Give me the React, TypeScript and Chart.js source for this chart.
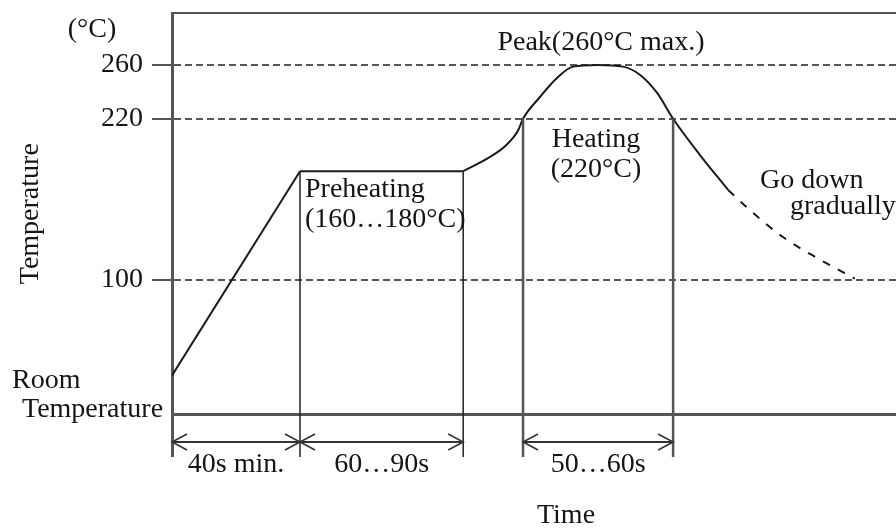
import React, { useEffect, useRef } from "react";
import { Chart, registerables } from "chart.js";

Chart.register(...registerables);

// ---- data (time in s, temperature in °C; schematic profile) ----
const rampTime = [0, 40];
const rampTemp = [29, 181];
const soakTime = [40, 91];
const soakTemp = [181, 181];
const reflowTime = [91, 99.4, 104.5, 108.1, 109.7, 115, 120.3, 125.3, 133, 140.9, 146.3, 151.6, 156.6, 165, 173.8];
const reflowTemp = [181, 191.6, 200.5, 211, 220, 236.2, 250.3, 258.8, 260, 258.8, 252.6, 239.2, 220, 193, 167];
const coolTime = [173.8, 180.6, 190.9, 201.6, 213.4];
const coolTemp = [167, 152, 132, 116.4, 101];

const yTickValues = [100, 220, 260];
const yTickLabels = ["100", "220", "260"];

// phase boundaries: time and temperature where each vertical marker starts
const boundaryTime = [40, 91, 109.7, 156.6];
const boundaryTemp = [181, 181, 220, 220];

// dimension spans (start, end) and their labels
const spanStart = [0, 40, 109.7];
const spanEnd = [40, 91, 156.6];
const spanLabels = ["40s min.", "60…90s", "50…60s"];

const FONT = '"Liberation Serif", "Times New Roman", serif';
const TEXT = "#151515";

const pts = (xs: number[], ys: number[]) => xs.map((x, i) => ({ x, y: ys[i] }));

const annotations = {
  id: "annotations",
  afterDraw(chart: any) {
    const { ctx, chartArea, scales } = chart;
    const x = scales.x;
    const y = scales.y;
    const bottom = chartArea.bottom;
    const dimY = bottom + 27.6;
    const extY = bottom + 42.6;
    ctx.save();
    const line = (x1: number, y1: number, x2: number, y2: number, color: string, w: number) => {
      ctx.beginPath();
      ctx.strokeStyle = color;
      ctx.lineWidth = w;
      ctx.setLineDash([]);
      ctx.moveTo(x1, y1);
      ctx.lineTo(x2, y2);
      ctx.stroke();
    };
    // top frame
    line(chartArea.left, chartArea.top, chartArea.right, chartArea.top, "#555", 2);
    // extend y axis below baseline
    const x0 = x.getPixelForValue(0);
    line(x0 + 0.5, bottom, x0 + 0.5, extY, "#555", 3);
    // phase boundaries
    boundaryTime.forEach((t, i) => {
      const px = x.getPixelForValue(t);
      const py = y.getPixelForValue(boundaryTemp[i]);
      const thick = i >= 2;
      line(px, py, px, extY, thick ? "#555" : "#222", thick ? 2.5 : 1.5);
    });
    // dimension arrows
    const arrow = (xa: number, xb: number) => {
      line(xa, dimY, xb, dimY, "#333", 2);
      const hl = 15, hh = 8;
      ctx.beginPath();
      ctx.strokeStyle = "#333";
      ctx.lineWidth = 1.6;
      ctx.moveTo(xa + hl, dimY - hh);
      ctx.lineTo(xa, dimY);
      ctx.lineTo(xa + hl, dimY + hh);
      ctx.moveTo(xb - hl, dimY - hh);
      ctx.lineTo(xb, dimY);
      ctx.lineTo(xb - hl, dimY + hh);
      ctx.stroke();
    };
    ctx.font = `28px ${FONT}`;
    ctx.fillStyle = TEXT;
    ctx.textBaseline = "alphabetic";
    spanStart.forEach((s, i) => {
      const xa = x.getPixelForValue(s);
      const xb = x.getPixelForValue(spanEnd[i]);
      arrow(xa, xb);
      ctx.textAlign = "center";
      ctx.fillText(spanLabels[i], (xa + xb) / 2, bottom + 57.6);
    });
    // text annotations
    const text = (s: string, px: number, py: number, align: CanvasTextAlign) => {
      ctx.textAlign = align;
      ctx.fillText(s, px, py);
    };
    text("(°C)", 92, 37, "center");
    text("Peak(260°C max.)", 601, 50, "center");
    text("Heating", 596, 147, "center");
    text("(220°C)", 596, 177, "center");
    text("Preheating", 305, 197, "left");
    text("(160…180°C)", 305, 227, "left");
    text("Go down", 760, 188, "left");
    text("gradually", 790, 214, "left");
    text("Room", 12, 388, "left");
    text("Temperature", 22, 417, "left");
    ctx.restore();
  },
};

export default function App() {
  const ref = useRef<HTMLCanvasElement>(null);
  useEffect(() => {
    if (!ref.current) return;
    const base = {
      borderColor: "#1a1a1a",
      borderWidth: 2,
      pointRadius: 0,
      fill: false,
    };
    const chart = new Chart(ref.current, {
      type: "line",
      data: {
        datasets: [
          { ...base, data: pts(rampTime, rampTemp), tension: 0 },
          { ...base, data: pts(soakTime, soakTemp), tension: 0 },
          { ...base, data: pts(reflowTime, reflowTemp), cubicInterpolationMode: "monotone" },
          { ...base, data: pts(coolTime, coolTemp), cubicInterpolationMode: "monotone", borderDash: [8, 9] },
        ] as any,
      },
      options: {
        animation: false,
        responsive: false,
        devicePixelRatio: 1,
        layout: { padding: { top: 13, left: 0, right: 0, bottom: 0 } },
        plugins: { legend: { display: false }, tooltip: { enabled: false } },
        scales: {
          x: {
            type: "linear",
            min: 0,
            max: 246.25,
            grid: { display: false, drawTicks: false },
            ticks: { display: false },
            border: { display: true, color: "#555", width: 3 },
            title: {
              display: true,
              text: "Time",
              color: TEXT,
              font: { family: FONT, size: 28, lineHeight: 1 },
              padding: { top: 0, bottom: 0 },
            },
            afterFit: (s: any) => {
              s.height = 530 - 414.4;
              s.paddingLeft = 0;
              s.paddingRight = 0;
            },
          },
          y: {
            type: "linear",
            min: 0,
            max: 298.7,
            afterBuildTicks: (s: any) => {
              s.ticks = yTickValues.map((v) => ({ value: v }));
            },
            ticks: {
              color: TEXT,
              padding: 9,
              font: { family: FONT, size: 28 },
              callback: (v: any) => {
                const i = yTickValues.indexOf(Number(v));
                return i >= 0 ? yTickLabels[i] : "";
              },
            },
            grid: {
              display: true,
              color: "#555",
              lineWidth: 2,
              drawTicks: true,
              tickLength: 20,
              tickColor: "#555",
              tickWidth: 2,
            },
            border: { display: true, color: "#555", width: 3, dash: [7, 4] },
            title: {
              display: true,
              text: "Temperature",
              color: TEXT,
              font: { family: FONT, size: 28, lineHeight: 1 },
              padding: { top: 17, bottom: 0 },
            },
            afterFit: (s: any) => {
              s.width = 172;
              s.paddingTop = 0;
              s.paddingBottom = 0;
            },
          },
        },
      } as any,
      plugins: [annotations],
    });
    return () => chart.destroy();
  }, []);
  return (
    <div style={{ position: "fixed", left: 0, top: 0, width: 896, height: 530, overflow: "hidden", background: "#fff" }}>
      <canvas ref={ref} width={960} height={530} style={{ display: "block" }} />
    </div>
  );
}
